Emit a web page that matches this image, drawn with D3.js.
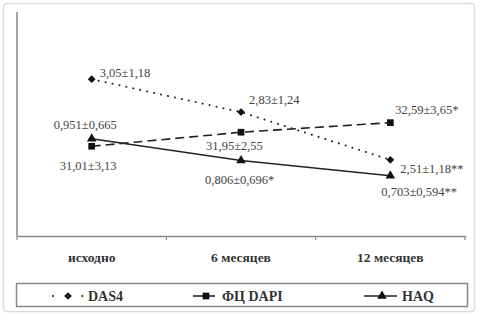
<!DOCTYPE html>
<html><head><meta charset="utf-8">
<script src="https://cdn.jsdelivr.net/npm/d3@7"></script>
<style>body{margin:0;background:#fff}svg{display:block}</style>
</head><body>
<svg id="c" width="482" height="316"></svg>
<script>
const categories = ["исходно", "6 месяцев", "12 месяцев"];
const das4 = [3.05, 2.83, 2.51];
const das4Labels = ["3,05±1,18", "2,83±1,24", "2,51±1,18**"];
const dapi = [31.01, 31.95, 32.59];
const dapiLabels = ["31,01±3,13", "31,95±2,55", "32,59±3,65*"];
const haq = [0.951, 0.806, 0.703];
const haqLabels = ["0,951±0,665", "0,806±0,696*", "0,703±0,594**"];
const seriesNames = ["DAS4", "ФЦ DAPI", "HAQ"];

const svg = d3.select("#c");
const L = 17, R = 465, T = 12, B = 236;
const serif = "'Liberation Serif', 'Times New Roman', 'DejaVu Serif', serif";

svg.append("rect").attr("x", 3.5).attr("y", 3.5).attr("width", 471).attr("height", 308)
  .attr("rx", 3).attr("fill", "#fff").attr("stroke", "#ddd").attr("stroke-width", 1.5);

const x = d3.scaleBand().domain(categories).range([L, R]).padding(0);
const cx = c => x(c) + x.bandwidth() / 2;
const yD = d3.scaleLinear().domain([2.0, 3.5]).range([B, T]);
const yP = d3.scaleLinear().domain([25, 40]).range([B, T]);
const yH = d3.scaleLinear().domain([0.3, 1.8]).range([B, T]);

const ax = svg.append("g").attr("transform", `translate(0,${B})`)
  .call(d3.axisBottom(x).tickSize(0).tickFormat(""));
ax.select(".domain").attr("stroke", "#888").attr("stroke-width", 1.5);
svg.selectAll(".tickmark").data(d3.range(categories.length + 1)).enter().append("line")
  .attr("x1", i => L + i * x.bandwidth()).attr("x2", i => L + i * x.bandwidth())
  .attr("y1", B).attr("y2", B + 4).attr("stroke", "#888").attr("stroke-width", 1.2);
svg.append("line").attr("x1", L).attr("x2", L).attr("y1", T).attr("y2", B)
  .attr("stroke", "#888").attr("stroke-width", 1.5);

svg.selectAll(".cat").data(categories).enter().append("text")
  .attr("x", d => cx(d)).attr("y", 262).attr("text-anchor", "middle")
  .attr("font-family", serif).attr("font-weight", "bold").attr("font-size", 13.5)
  .attr("fill", "#333").text(d => d);

const line = (sc) => d3.line().x((d, i) => cx(categories[i])).y(d => sc(d));

svg.append("path").datum(dapi).attr("d", line(yP)).attr("fill", "none")
  .attr("stroke", "#222").attr("stroke-width", 1.6).attr("stroke-dasharray", "9,5");
svg.append("path").datum(haq).attr("d", line(yH)).attr("fill", "none")
  .attr("stroke", "#222").attr("stroke-width", 1.6);
svg.append("path").datum(das4).attr("d", line(yD)).attr("fill", "none")
  .attr("stroke", "#222").attr("stroke-width", 2).attr("stroke-dasharray", "0.1,7")
  .attr("stroke-linecap", "round");

const diamondSym = d3.symbol().type(d3.symbolSquare).size(30);
const square = d3.symbol().type(d3.symbolSquare).size(45);
const tri = d3.symbol().type(d3.symbolTriangle).size(40);

svg.selectAll(".pd").data(das4).enter().append("path").attr("d", diamondSym)
  .attr("transform", (d, i) => `translate(${cx(categories[i])},${yD(d)}) rotate(45)`).attr("fill", "#111");
svg.selectAll(".pp").data(dapi).enter().append("path").attr("d", square)
  .attr("transform", (d, i) => `translate(${cx(categories[i])},${yP(d)})`).attr("fill", "#111");
svg.selectAll(".ph").data(haq).enter().append("path").attr("d", tri)
  .attr("transform", (d, i) => `translate(${cx(categories[i])},${yH(d)})`).attr("fill", "#111");

const lab = (vals, labels, sc, offs) => {
  svg.selectAll(null).data(vals).enter().append("text")
    .attr("x", (d, i) => cx(categories[i]) + offs[i][0])
    .attr("y", (d, i) => sc(d) + offs[i][1])
    .attr("font-family", serif).attr("font-size", 12.5).attr("fill", "#444")
    .text((d, i) => labels[i]);
};
lab(das4, das4Labels, yD, [[8, -2], [8, -8], [10, 13]]);
lab(dapi, dapiLabels, yP, [[-32, 24], [-35, 18], [5, -9]]);
lab(haq, haqLabels, yH, [[-38, -10], [-36, 24], [-9, 20]]);

svg.append("rect").attr("x", 16.5).attr("y", 283.5).attr("width", 451).attr("height", 23)
  .attr("fill", "#fff").attr("stroke", "#888").attr("stroke-width", 1.5);
const ly = 296;
const lg = svg.append("g");
lg.append("line").attr("x1", 53).attr("x2", 83).attr("y1", ly).attr("y2", ly)
  .attr("stroke", "#222").attr("stroke-width", 2).attr("stroke-dasharray", "0.1,14.5")
  .attr("stroke-linecap", "round");
lg.append("path").attr("d", diamondSym)
  .attr("transform", `translate(68,${ly}) rotate(45)`).attr("fill", "#111");
lg.append("line").attr("x1", 193).attr("x2", 215).attr("y1", ly).attr("y2", ly)
  .attr("stroke", "#222").attr("stroke-width", 1.6);
lg.append("path").attr("d", square).attr("transform", `translate(206,${ly})`).attr("fill", "#111");
lg.append("line").attr("x1", 364).attr("x2", 397).attr("y1", ly).attr("y2", ly)
  .attr("stroke", "#222").attr("stroke-width", 1.6);
lg.append("path").attr("d", tri).attr("transform", `translate(382,${ly})`).attr("fill", "#111");
const lx = [88, 222, 402];
lg.selectAll("text").data(seriesNames).enter().append("text")
  .attr("x", (d, i) => lx[i]).attr("y", ly + 4.5)
  .attr("font-family", serif).attr("font-weight", "bold").attr("font-size", 14)
  .attr("fill", "#333").text(d => d);
</script>
</body></html>
